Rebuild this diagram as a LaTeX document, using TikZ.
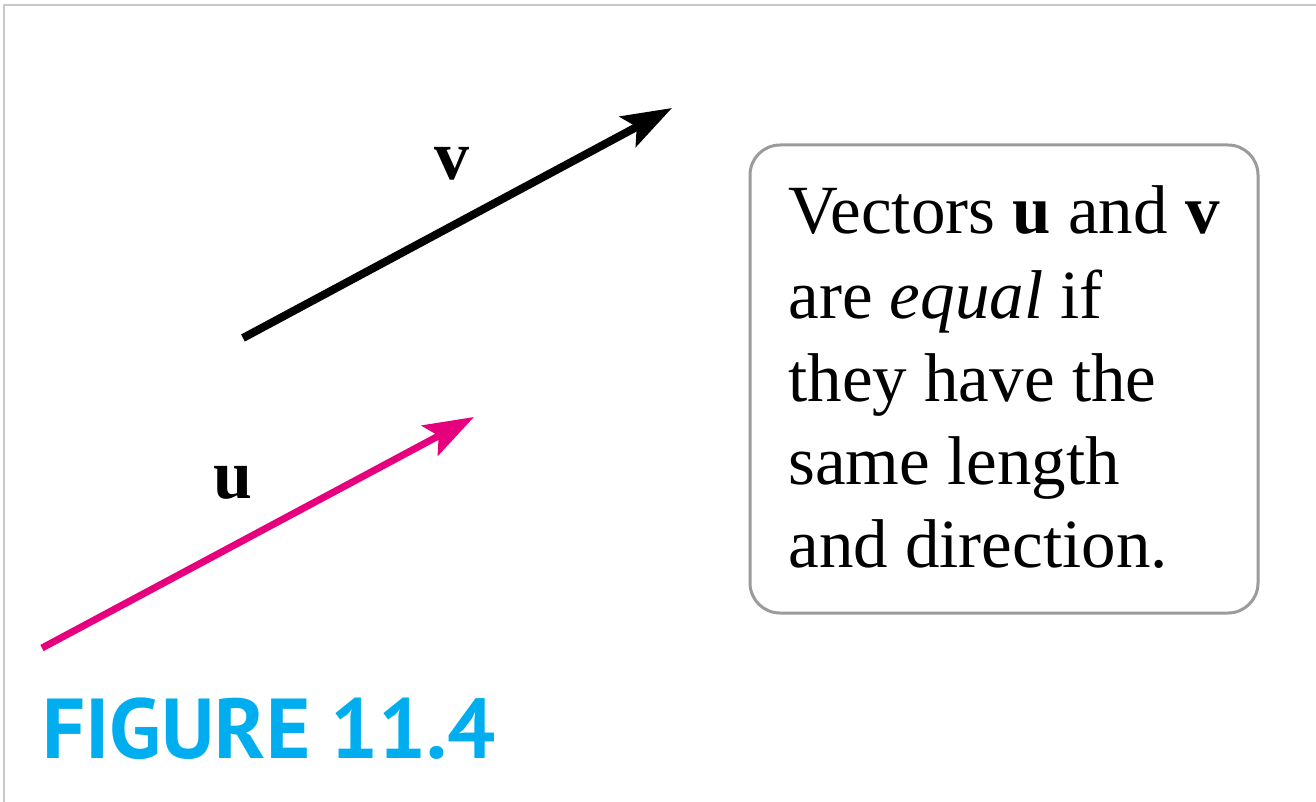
\documentclass[tikz,border=0pt]{standalone}
\usepackage{fontspec}
\setmainfont{Liberation Serif}
\newfontfamily\figfont{PT Sans}
\usetikzlibrary{arrows.meta}
\definecolor{vmagenta}{RGB}{230,0,126}
\definecolor{figcyan}{RGB}{0,174,239}
\definecolor{framegray}{RGB}{200,200,200}
\definecolor{boxgray}{RGB}{155,155,155}
\tikzset{
  vecarrow/.style={line width=#1, -{Stealth[length=25pt,width=17pt,inset=5pt]}},
  veclabel/.style={font=\fontsize{35}{42}\selectfont\bfseries, inner sep=0pt, anchor=base},
  boxline/.style={font=\fontsize{34.5}{41.5}\selectfont, inner sep=0pt, anchor=base west},
  infobox/.style={draw=boxgray, line width=1.5pt, rounded corners=15pt, minimum width=254pt, minimum height=234pt, inner sep=0pt},
  figlabel/.style={font=\figfont\bfseries\fontsize{42.5}{48}\selectfont, text=figcyan, inner sep=0pt, anchor=base west},
  frameline/.style={draw=framegray, line width=1pt}
}
\begin{document}
\begin{tikzpicture}[x=0.5pt, y=-0.5pt]
\useasboundingbox (0,0) rectangle (1316,802);
% frame
\coordinate (ftl) at (4,5);
\coordinate (ftr) at (1316,5);
\coordinate (fbl) at (4,802);
\draw[frameline] (fbl) -- (ftl) -- (ftr);
% vector v
\coordinate (vtail) at (243,338);
\coordinate (vtip) at (672,108);
\draw[vecarrow=4pt, black] (vtail) -- (vtip);
\node[veclabel] (vlab) at (452,180) {v};
% vector u
\coordinate (utail) at (42,648);
\coordinate (utip) at (474,417);
\draw[vecarrow=3.5pt, vmagenta] (utail) -- (utip);
\node[veclabel] (ulab) at (233,498) {u};
% box
\node[infobox] (box) at (1004,379) {};
\node[boxline] (l1) at (788,234) {Vectors \textbf{u} and \textbf{v}};
\node[boxline] (l2) at (788,318) {are \textit{equal} if};
\node[boxline] (l3) at (788,401) {they have the};
\node[boxline] (l4) at (788,484) {same length};
\node[boxline] (l5) at (788,567) {and direction.};
% caption
\node[figlabel] (fig) at (42,758) {FIGURE\hspace{10pt}11.4};
\end{tikzpicture}
\end{document}
